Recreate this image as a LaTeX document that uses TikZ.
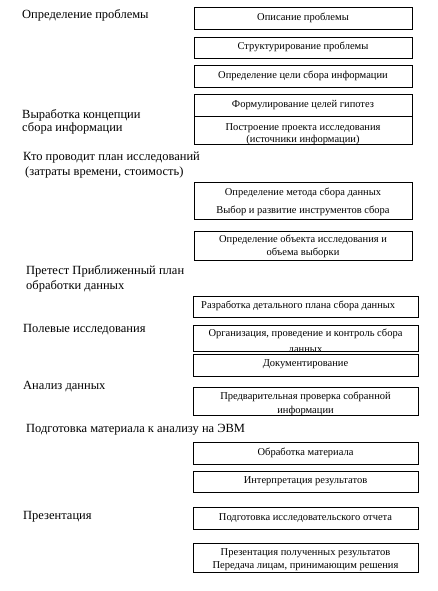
\documentclass[tikz,border=0pt]{standalone}
\usepackage{fontspec}
\setmainfont{Liberation Serif}

\tikzset{
	stage/.style={anchor=mid west, inner sep=0pt, font=\fontsize{12.5}{15}\selectfont},
	taskbox/.style={draw, line width=0.75pt, anchor=north west, inner sep=0pt},
	upper/.style={taskbox, minimum width=218pt},
	lower/.style={taskbox, minimum width=225pt},
	tasktext/.style={anchor=mid, inner sep=0pt, font=\fontsize{10.5}{12}\selectfont},
}

\begin{document}
\begin{tikzpicture}[x=1pt,y=-1pt]
		\useasboundingbox (0,0) rectangle (437,591);
		
		%stages
		\node[stage] (s1) at (22,16) {Определение проблемы};
		\node[stage] (s2a) at (22,116) {Выработка концепции};
		\node[stage] (s2b) at (22,129) {сбора информации};
		\node[stage] (s3a) at (23,158) {Кто проводит план исследований};
		\node[stage] (s3b) at (25,173) {(затраты времени, стоимость)};
		\node[stage] (s4a) at (26,272) {Претест Приближенный план};
		\node[stage] (s4b) at (26,287) {обработки данных};
		\node[stage] (s5) at (23,330) {Полевые исследования};
		\node[stage] (s6) at (23,387) {Анализ данных};
		\node[stage] (s7) at (26,430) {Подготовка материала к анализу на ЭВМ};
		\node[stage] (s8) at (23,517) {Презентация};
		
		%boxes
		\node[upper, minimum height=22pt] (b1) at (194,7) {};
		\node[upper, minimum height=21pt] (b2) at (194,37) {};
		\node[upper, minimum height=22pt] (b3) at (194,65) {};
		\node[upper, minimum height=22pt] (b4) at (194,94) {};
		\node[upper, minimum height=28pt] (b5) at (194,116) {};
		\node[upper, minimum height=37pt] (b6) at (194,182) {};
		\node[upper, minimum height=29pt] (b7) at (194,231) {};
		\node[lower, minimum height=21pt] (b8) at (193,296) {};
		\node[lower, minimum height=26pt] (b9) at (193,325) {};
		\node[lower, minimum height=22pt] (b10) at (193,354) {};
		\node[lower, minimum height=28pt] (b11) at (193,387) {};
		\node[lower, minimum height=22pt] (b12) at (193,442) {};
		\node[lower, minimum height=21pt] (b13) at (193,471) {};
		\node[lower, minimum height=22pt] (b14) at (193,507) {};
		\node[lower, minimum height=29pt] (b15) at (193,543) {};
		
		%box texts
		\node[tasktext] (t1) at (303,18.5) {Описание проблемы};
		\node[tasktext] (t2) at (303,47.5) {Структурирование проблемы};
		\node[tasktext] (t3) at (303,76.5) {Определение цели сбора информации};
		\node[tasktext] (t4) at (303,105.5) {Формулирование целей гипотез};
		\node[tasktext] (t5a) at (303,128) {Построение проекта исследования};
		\node[tasktext] (t6a) at (303,193.5) {Определение метода сбора данных};
		\node[tasktext] (t6b) at (303,211.5) {Выбор и развитие инструментов сбора};
		\node[tasktext] (t7a) at (303,240.5) {Определение объекта исследования и};
		\node[tasktext] (t7b) at (303,253.5) {объема выборки};
		\node[tasktext, anchor=mid west] (t8) at (201,306.5) {Разработка детального плана сбора данных};
		\node[tasktext] (t9a) at (305.5,334.5) {Организация, проведение и контроль сбора};
		\node[tasktext] (t10) at (305.5,364.5) {Документирование};
		\node[tasktext] (t11a) at (305.5,397.5) {Предварительная проверка собранной};
		\node[tasktext] (t12) at (305.5,453.5) {Обработка материала};
		\node[tasktext] (t13) at (305.5,481.5) {Интерпретация результатов};
		\node[tasktext] (t14) at (305.5,518.5) {Подготовка исследовательского отчета};
		\node[tasktext] (t15a) at (305.5,553.5) {Презентация полученных результатов};
		
		%cut off lines
		\begin{scope}
			\clip (b5.south west) rectangle (b5.north east);
			\node[tasktext] (t5b) at (303,140) {(источники информации)};
		\end{scope}
		\begin{scope}
			\clip (b9.south west) rectangle (b9.north east);
			\node[tasktext] (t9b) at (305.5,350) {данных};
		\end{scope}
		\begin{scope}
			\clip (b11.south west) rectangle (b11.north east);
			\node[tasktext] (t11b) at (305.5,411) {информации};
		\end{scope}
		\begin{scope}
			\clip (b15.south west) rectangle (b15.north east);
			\node[tasktext] (t15b) at (305.5,566) {Передача лицам, принимающим решения};
		\end{scope}
\end{tikzpicture}
\end{document}
